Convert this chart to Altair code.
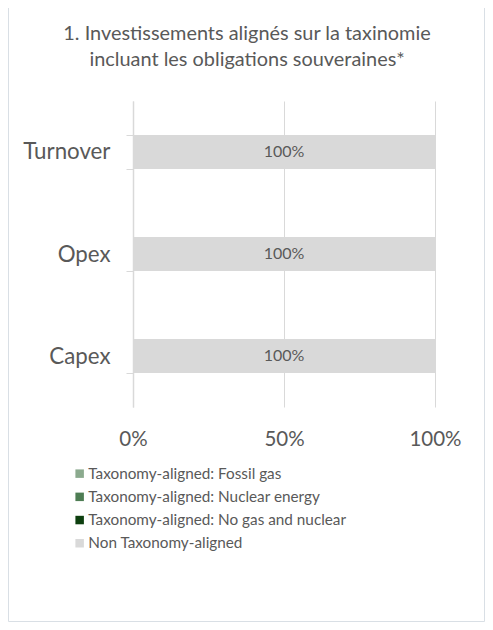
import altair as alt
import pandas as pd

# ---- data ----
title_lines = ["1. Investissements alignés sur la taxinomie",
               "incluant les obligations souveraines*"]
metrics = ["Turnover", "Opex", "Capex"]
series = ["Taxonomy-aligned: Fossil gas",
          "Taxonomy-aligned: Nuclear energy",
          "Taxonomy-aligned: No gas and nuclear",
          "Non Taxonomy-aligned"]
colors = ["#8BAA8E", "#4E7D54", "#0D3F0F", "#D9D9D9"]
fossil_gas = [0.0, 0.0, 0.0]
nuclear = [0.0, 0.0, 0.0]
no_gas_nuclear = [0.0, 0.0, 0.0]
non_aligned = [1.0, 1.0, 1.0]
x_ticks = [0, 0.5, 1.0]

rows = []
for i, m in enumerate(metrics):
    for k, vals in enumerate([fossil_gas, nuclear, no_gas_nuclear, non_aligned]):
        rows.append({"metric": m, "series": series[k], "order": k, "value": vals[i]})
df = pd.DataFrame(rows)

FONT = "Lato"
GREY = "#595959"
LINE = "#D9D9D9"

W, H = 302, 306
PAD = {"left": 125, "top": 93, "right": 50, "bottom": 215}

y_enc = alt.Y("metric:N", sort=metrics, title=None,
              scale=alt.Scale(paddingInner=0.667, paddingOuter=0.333),
              axis=alt.Axis(labelFontSize=22.3, labelColor=GREY, labelFont=FONT,
                            labelPadding=16, tickBand="extent", tickSize=7,
                            tickColor=LINE, domainColor=LINE, domainWidth=1.5,
                            grid=False))
x_enc = alt.X("value:Q", stack="zero", title=None,
              scale=alt.Scale(domain=[0, 1], nice=False),
              axis=alt.Axis(values=x_ticks, format=".0%", labelFontSize=20.5,
                            labelColor=GREY, labelFont=FONT, labelPadding=22,
                            domain=False, ticks=False, grid=True, gridColor=LINE,
                            labelFlush=False))

bars = alt.Chart(df).mark_bar().encode(
    y=y_enc,
    x=x_enc,
    color=alt.Color("series:N", sort=series,
                    scale=alt.Scale(domain=series, range=colors),
                    legend=alt.Legend(orient="none", legendX=-61, legendY=365,
                                      title=None, symbolType="square", symbolSize=72,
                                      labelFontSize=15.3, labelColor=GREY, labelFont=FONT,
                                      rowPadding=7.2, labelOffset=1, padding=0,
                                      symbolStrokeWidth=0, labelLimit=400)),
    order=alt.Order("order:Q"),
)

labels = alt.Chart(df).transform_filter("datum.value > 0").transform_stack(
    stack="value", groupby=["metric"], as_=["x0", "x1"],
    sort=[alt.SortField("order")]
).transform_calculate(mid="(datum.x0 + datum.x1) / 2").mark_text(
    font=FONT, fontSize=16, color=GREY
).encode(
    y=alt.Y("metric:N", sort=metrics),
    x=alt.X("mid:Q"),
    text=alt.Text("value:Q", format=".0%"),
)

one = alt.Data(values=[{"a": 1}])
t1 = alt.Chart(one).mark_text(font=FONT, fontSize=19.9, color=GREY, baseline="alphabetic",
                              align="center").encode(
    x=alt.value(114), y=alt.value(-61), text=alt.value(title_lines[0]))
t2 = alt.Chart(one).mark_text(font=FONT, fontSize=19.9, color=GREY, baseline="alphabetic",
                              align="center").encode(
    x=alt.value(114), y=alt.value(-35), text=alt.value(title_lines[1]))

frame = alt.Chart(one).mark_rect(fillOpacity=0, stroke="#D9DFE5", strokeWidth=1).encode(
    x=alt.value(-124.5), x2=alt.value(351.5), y=alt.value(-96), y2=alt.value(520.5))

chart = alt.layer(frame, bars, labels, t1, t2).properties(
    width=W, height=H, padding=PAD,
    autosize=alt.AutoSizeParams(type="none"),
    background="white",
).configure_view(stroke=None)

chart.save("out.html", embed_options={"renderer": "svg", "actions": False})
